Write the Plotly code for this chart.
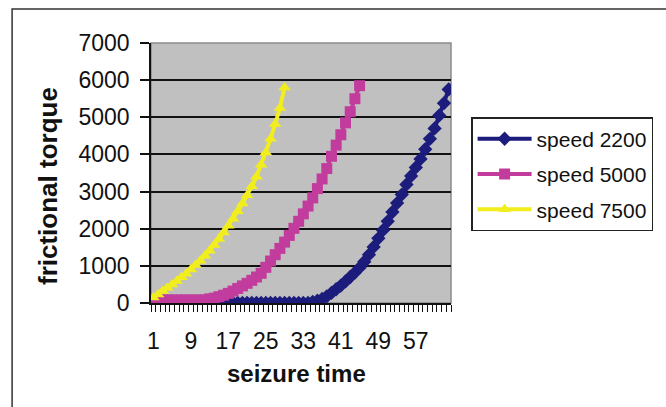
import plotly.graph_objects as go

# Seizure-time series: frictional torque for three shaft speeds
speed_2200 = [0] * 34 + [
    30, 60, 110, 180, 270, 370, 470, 580, 700, 820,
    950, 1110, 1300, 1510, 1740, 1960, 2200, 2450, 2690, 2920,
    3190, 3420, 3650, 3880, 4140, 4420, 4700, 5050, 5380, 5750,
]
speed_5000 = [80] * 12 + [
    110, 130, 170, 210, 260, 320, 390, 460, 530, 610,
    700, 800, 960, 1130, 1300, 1470, 1640, 1820, 2010, 2200,
    2400, 2610, 2830, 3080, 3340, 3620, 3950, 4250, 4530, 4850,
    5150, 5500, 5850,
]
speed_7500 = [
    150, 230, 320, 410, 500, 590, 690, 790, 900, 1020,
    1140, 1270, 1410, 1560, 1720, 1900, 2080, 2270, 2470, 2680,
    2900, 3140, 3400, 3720, 4050, 4420, 4820, 5250, 5800,
]

series_names = ["speed 2200", "speed 5000", "speed 7500"]
series_values = [speed_2200, speed_5000, speed_7500]
series_colors = ["#1c1c7c", "#c23c9e", "#f2ee1e"]
series_symbols = ["diamond", "square", "triangle-up"]

n_categories = 64
x_tick_vals = [1, 9, 17, 25, 33, 41, 49, 57]
y_tick_vals = [0, 1000, 2000, 3000, 4000, 5000, 6000, 7000]
y_grid_vals = [1000, 2000, 3000, 4000, 5000, 6000]

FONT = "Liberation Sans, Arial, sans-serif"

fig = go.Figure()
for i, (name, vals, col, sym) in enumerate(
    zip(series_names, series_values, series_colors, series_symbols)
):
    fig.add_trace(
        go.Scatter(
            x=list(range(1, len(vals) + 1)),
            y=vals,
            name=name,
            mode="lines+markers",
            line=dict(color=col, width=4),
            marker=dict(symbol=sym, size=11, color=col),
            legendgroup=f"g{i}",
        )
    )

fig.update_layout(
    width=666,
    height=407,
    margin=dict(l=151, r=215, t=43, b=104),
    paper_bgcolor="white",
    plot_bgcolor="#c0c0c0",
    font=dict(family=FONT, color="#111111", size=22),
    showlegend=True,
    legend=dict(
        x=1.067,
        y=0.715,
        xanchor="left",
        yanchor="top",
        bgcolor="white",
        bordercolor="#222222",
        borderwidth=1.5,
        font=dict(family=FONT, size=21, color="#111111"),
        tracegroupgap=5,
        itemwidth=54,
    ),
    xaxis=dict(
        range=[0.5, n_categories + 0.5],
        tickmode="array",
        tickvals=x_tick_vals,
        ticktext=[str(v) for v in x_tick_vals],
        ticks="",
        showgrid=False,
        zeroline=False,
        showline=True,
        linecolor="#111111",
        linewidth=1.5,
        ticklabelstandoff=17,
        tickfont=dict(size=23),
        minor=dict(
            tickmode="linear",
            tick0=0.5,
            dtick=1,
            ticks="outside",
            ticklen=7,
            tickwidth=1,
            tickcolor="#111111",
            showgrid=False,
        ),
    ),
    yaxis=dict(
        range=[0, 7000],
        tickmode="array",
        tickvals=y_tick_vals,
        ticks="outside",
        ticklen=9,
        tickwidth=1.5,
        tickcolor="#111111",
        showgrid=False,
        zeroline=False,
        showline=True,
        linecolor="#111111",
        linewidth=1.5,
        ticklabelstandoff=6,
        tickfont=dict(size=23),
        minor=dict(
            tickmode="array",
            tickvals=y_grid_vals,
            ticks="",
            showgrid=True,
            gridcolor="#111111",
            gridwidth=1.5,
        ),
    ),
)

# light border on the top and right of the plotting area
fig.add_shape(
    type="rect", xref="paper", yref="paper", x0=0, x1=1, y0=0, y1=1,
    line=dict(color="#8a8a8a", width=1.5), layer="below",
)
# outer chart frame (left and top edges; the rest runs off the canvas)
fig.add_shape(
    type="path", xref="paper", yref="paper",
    path="M -0.463,-0.5 L -0.463,1.131 L 1.8,1.131",
    line=dict(color="#333333", width=1.5),
)

# axis titles
fig.add_annotation(
    text="<b>frictional torque</b>", xref="paper", yref="paper",
    x=(48 - 151) / 300, y=(303 - 186) / 260, textangle=-90,
    showarrow=False, font=dict(family=FONT, size=26, color="#111111"),
    xanchor="center", yanchor="middle",
)
fig.add_annotation(
    text="<b>seizure time</b>", xref="paper", yref="paper",
    x=(296 - 151) / 300, y=(303 - 373) / 260,
    showarrow=False, font=dict(family=FONT, size=24, color="#111111"),
    xanchor="center", yanchor="middle",
)

fig.write_html("out.html")
